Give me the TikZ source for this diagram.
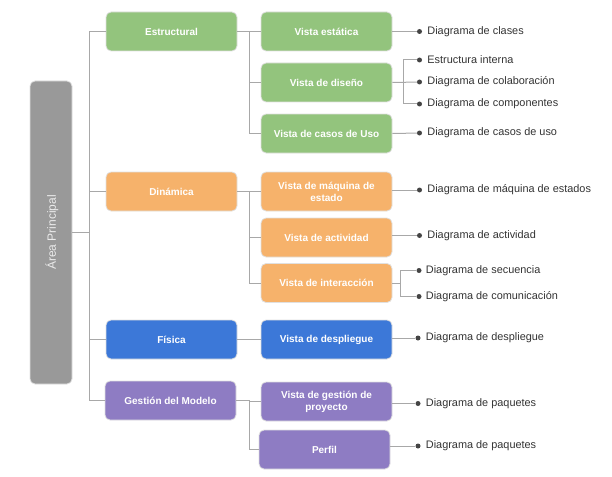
\documentclass[tikz,border=0pt]{standalone}
\usepackage{fontspec}
\setmainfont{Liberation Sans}
\usetikzlibrary{positioning}
\definecolor{cgreen}{HTML}{93C47D}
\definecolor{corange}{HTML}{F6B26B}
\definecolor{cblue}{HTML}{3C78D8}
\definecolor{cpurple}{HTML}{8E7CC3}
\definecolor{cgray}{HTML}{999999}
\definecolor{cline}{HTML}{A8A8A8}
\definecolor{cdot}{HTML}{444444}
\definecolor{ctext}{HTML}{333333}
\tikzset{
  box/.style={rectangle, rounded corners=5pt, draw=black!12, line width=0.8pt,
    minimum width=131pt, minimum height=39pt, inner sep=2pt, text=white,
    font=\bfseries\fontsize{10}{12}\selectfont, align=center},
  conn/.style={draw=cline, line width=1pt},
  dotn/.style={circle, fill=cdot, inner sep=0pt, minimum size=5pt},
  leaf/.style={anchor=west, inner sep=0pt, text=ctext, font=\fontsize{10.9}{12}\selectfont},
}
\begin{document}
\begin{tikzpicture}[x=1pt,y=-1pt]
\useasboundingbox (0,0) rectangle (612,476);
% root
\node[rectangle, rounded corners=5pt, draw=black!12, line width=0.8pt, fill=cgray,
  minimum width=42pt, minimum height=303pt, inner sep=0pt] (root) at (51,232.5) {};
\node[rotate=90, text=white!92!black, font=\fontsize{12}{14}\selectfont] (rootlbl) at (52,232.5) {Área Principal};
% level 1
\node[box, fill=cgreen] (estr) at (171.5,31.5) {Estructural};
\node[box, fill=corange] (din) at (171.5,191.5) {Dinámica};
\node[box, fill=cblue] (fis) at (171.5,339.5) {Física};
\node[box, fill=cpurple] (gest) at (170.5,400.5) {Gestión del Modelo};
% level 2
\node[box, fill=cgreen] (vest) at (326.5,31.5) {Vista estática};
\node[box, fill=cgreen] (vdis) at (326.5,82.5) {Vista de diseño};
\node[box, fill=cgreen] (vcas) at (326.5,133.5) {Vista de casos de Uso};
\node[box, fill=corange] (vmaq) at (326.5,191.5) {Vista de máquina de\\estado};
\node[box, fill=corange] (vact) at (326.5,237.5) {Vista de actividad};
\node[box, fill=corange] (vint) at (326.5,283) {Vista de interacción};
\node[box, fill=cblue] (vdes) at (326.5,339.5) {Vista de despliegue};
\node[box, fill=cpurple] (vges) at (326.5,401.5) {Vista de gestión de\\proyecto};
\node[box, fill=cpurple] (vper) at (324.5,449.5) {Perfil};
% root connectors
\coordinate (sx) at (89.5,0);
\draw[conn] (root.east |- rootlbl) -- (rootlbl -| sx);
\draw[conn] (estr.west) -- (estr.west -| sx) -- (gest.west -| sx) -- (gest.west);
\draw[conn] (din.west) -- (din.west -| sx);
\draw[conn] (fis.west) -- (fis.west -| sx);
% level1 -> level2
\coordinate (tx) at (249.5,0);
\draw[conn] (estr.east) -- (vest.west);
\draw[conn] (vest.west -| tx) -- (vcas.west -| tx) -- (vcas.west);
\draw[conn] (vdis.west) -- (vdis.west -| tx);
\draw[conn] (din.east) -- (vmaq.west);
\draw[conn] (vmaq.west -| tx) -- (vint.west -| tx) -- (vint.west);
\draw[conn] (vact.west) -- (vact.west -| tx);
\draw[conn] (fis.east) -- (vdes.west);
\draw[conn] (gest.east) -- (gest.east -| tx) -- (vper.west -| tx) -- (vper.west);
\draw[conn] (vges.west) -- (vges.west -| tx);
% leaves
\node[dotn] (d1) at (419.5,31.5) {};
\node[dotn] (d2) at (419.5,60) {};
\node[dotn] (d3) at (419.5,82) {};
\node[dotn] (d4) at (419.5,104) {};
\node[dotn] (d5) at (419.5,133) {};
\node[dotn] (d6) at (419.5,190) {};
\node[dotn] (d7) at (419.5,235.5) {};
\node[dotn] (d8) at (419,270.5) {};
\node[dotn] (d9) at (419,296.5) {};
\node[dotn] (d10) at (418,338) {};
\node[dotn] (d11) at (418,403.5) {};
\node[dotn] (d12) at (418,446) {};
\node[leaf, right=5pt of d1] (t1) {Diagrama de clases};
\node[leaf, right=5pt of d2] (t2) {Estructura interna};
\node[leaf, right=5pt of d3] (t3) {Diagrama de colaboración};
\node[leaf, right=5pt of d4] (t4) {Diagrama de componentes};
\node[leaf, right=5pt of d5] (t5) {Diagrama de casos de uso};
\node[leaf, right=5pt of d6] (t6) {Diagrama de máquina de estados};
\node[leaf, right=5pt of d7] (t7) {Diagrama de actividad};
\node[leaf, right=4pt of d8] (t8) {Diagrama de secuencia};
\node[leaf, right=4pt of d9] (t9) {Diagrama de comunicación};
\node[leaf, right=5pt of d10] (t10) {Diagrama de despliegue};
\node[leaf, right=5pt of d11] (t11) {Diagrama de paquetes};
\node[leaf, right=5pt of d12] (t12) {Diagrama de paquetes};
% leaf connectors
\coordinate (ux) at (403.5,0);
\coordinate (vx) at (400,0);
\draw[conn] (vest.east) -- (d1);
\draw[conn] (vdis.east) -- (d3);
\draw[conn] (d2) -- (d2 -| ux) -- (d4 -| ux) -- (d4);
\draw[conn] (vcas.east) -- (d5);
\draw[conn] (vmaq.east |- d6) -- (d6);
\draw[conn] (vact.east |- d7) -- (d7);
\draw[conn] (vint.east) -- (vint.east -| vx);
\draw[conn] (d8) -- (d8 -| vx) -- (d9 -| vx) -- (d9);
\draw[conn] (vdes.east |- d10) -- (d10);
\draw[conn] (vges.east |- d11) -- (d11);
\draw[conn] (vper.east |- d12) -- (d12);
\end{tikzpicture}
\end{document}
